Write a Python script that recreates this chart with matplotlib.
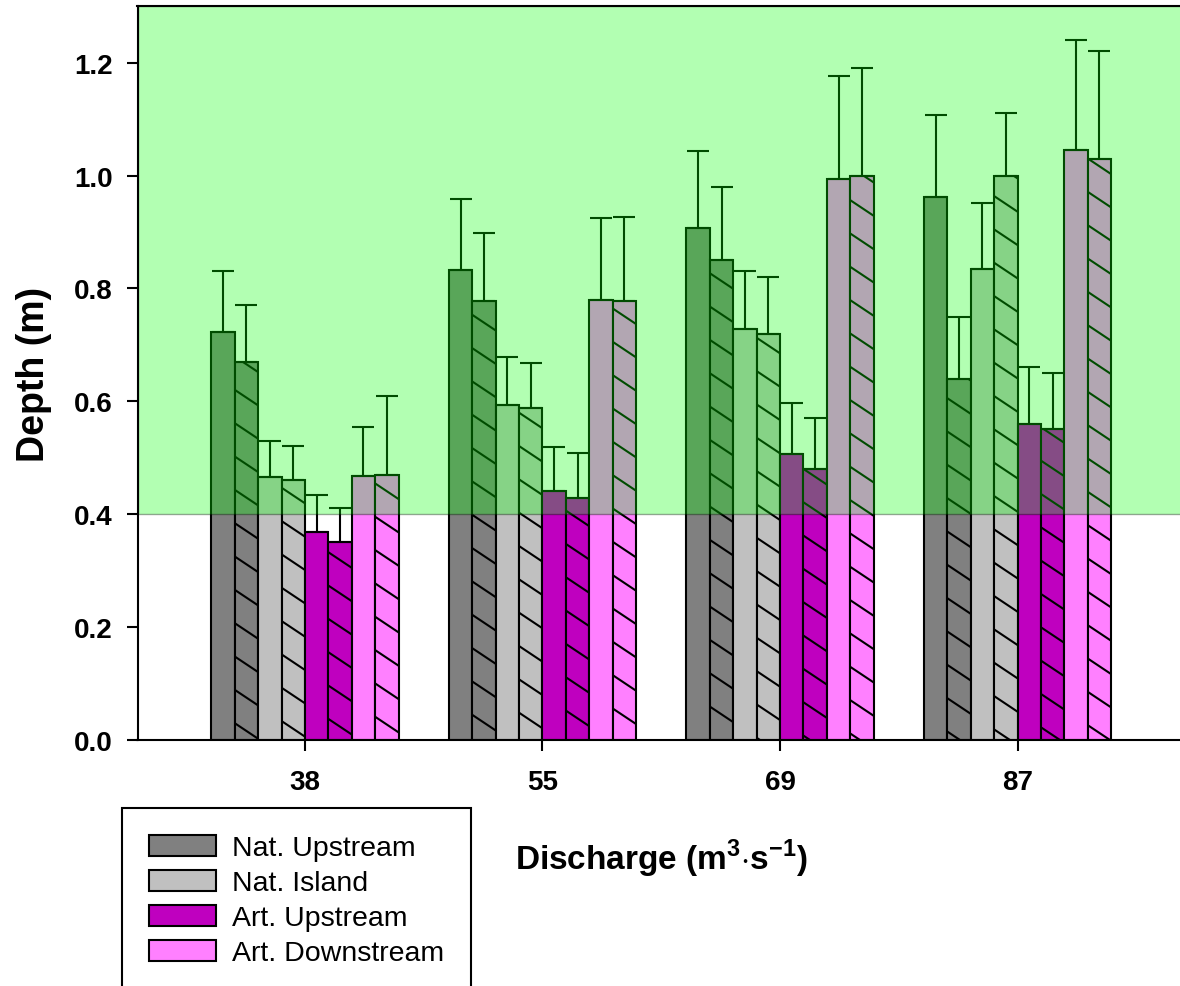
import numpy as np
import matplotlib
matplotlib.use('Agg')
import matplotlib.pyplot as plt
import matplotlib.hatch as mhatch
from matplotlib.path import Path
from matplotlib.patches import Patch

# ---------------- data ----------------
discharge = ['38', '55', '69', '87']
categories = ['Nat. Upstream', 'Nat. Island', 'Art. Upstream', 'Art. Downstream']
colors = ['#808080', '#c0c0c0', '#bf00bf', '#ff80ff']

nat_upstream_plain = [0.722, 0.833, 0.907, 0.962]
nat_upstream_hatched = [0.670, 0.778, 0.850, 0.640]
nat_island_plain = [0.465, 0.594, 0.728, 0.835]
nat_island_hatched = [0.460, 0.588, 0.720, 1.000]
art_upstream_plain = [0.368, 0.440, 0.506, 0.560]
art_upstream_hatched = [0.350, 0.428, 0.480, 0.550]
art_downstream_plain = [0.468, 0.780, 0.993, 1.046]
art_downstream_hatched = [0.470, 0.778, 1.000, 1.030]

nat_upstream_plain_err = [0.108, 0.126, 0.136, 0.145]
nat_upstream_hatched_err = [0.100, 0.120, 0.130, 0.110]
nat_island_plain_err = [0.065, 0.084, 0.102, 0.117]
nat_island_hatched_err = [0.060, 0.080, 0.100, 0.110]
art_upstream_plain_err = [0.065, 0.079, 0.090, 0.100]
art_upstream_hatched_err = [0.060, 0.081, 0.090, 0.100]
art_downstream_plain_err = [0.087, 0.145, 0.184, 0.194]
art_downstream_hatched_err = [0.140, 0.149, 0.190, 0.190]

depth_threshold = 0.4

series = [
    (nat_upstream_plain, nat_upstream_plain_err, 0, False),
    (nat_upstream_hatched, nat_upstream_hatched_err, 0, True),
    (nat_island_plain, nat_island_plain_err, 1, False),
    (nat_island_hatched, nat_island_hatched_err, 1, True),
    (art_upstream_plain, art_upstream_plain_err, 2, False),
    (art_upstream_hatched, art_upstream_hatched_err, 2, True),
    (art_downstream_plain, art_downstream_plain_err, 3, False),
    (art_downstream_hatched, art_downstream_hatched_err, 3, True),
]


# ---------------- custom shallow back-slash hatch ----------------
class ShallowBackHatch(mhatch.HatchPatternBase):
    def __init__(self, hatch, density):
        self.num_lines = 8 if '\\' in hatch else 0
        self.num_vertices = self.num_lines * 2

    def set_vertices_and_codes(self, vertices, codes):
        c = np.arange(-1, 7) / 3.0
        x0, x1 = -0.1, 1.1
        vertices[0::2, 0] = x0
        vertices[0::2, 1] = c - (2.0 / 3.0) * x0
        vertices[1::2, 0] = x1
        vertices[1::2, 1] = c - (2.0 / 3.0) * x1
        codes[0::2] = Path.MOVETO
        codes[1::2] = Path.LINETO


mhatch._hatch_types = [ShallowBackHatch if t is mhatch.SouthEastHatch else t
                       for t in mhatch._hatch_types]

# ---------------- style ----------------
plt.rcParams['font.family'] = ['Liberation Sans', 'DejaVu Sans']
plt.rcParams['mathtext.fontset'] = 'custom'
plt.rcParams['mathtext.rm'] = 'Liberation Sans'
plt.rcParams['mathtext.bf'] = 'Liberation Sans:bold'
plt.rcParams['hatch.linewidth'] = 1.5
plt.rcParams['hatch.color'] = 'black'

W, H = 1180, 987
fig = plt.figure(figsize=(W / 100, H / 100), dpi=100)
ax = fig.add_axes([137.5 / W, 1 - 740.7 / H, 1047.5 / W, 733.4 / H])

x = np.arange(len(discharge))
bar_w = 0.0985
for i, (vals, errs, ci, hatched) in enumerate(series):
    pos = x + (i - 3.5) * bar_w
    ax.bar(pos, vals, width=bar_w, color=colors[ci], edgecolor='black',
           linewidth=1.5, hatch='\\' if hatched else None, zorder=2)
    ax.errorbar(pos, vals, yerr=[np.zeros(len(vals)), errs], fmt='none',
                ecolor='black', elinewidth=1.5, capsize=8, capthick=1.5,
                zorder=2.1)

ax.set_xlim(-0.705, 3.705)
ax.set_ylim(0, 1.3)
ax.axhspan(depth_threshold, 1.3, facecolor=(0, 1, 0, 0.3),
           edgecolor=(0, 0, 0, 0.35), linewidth=1, zorder=2.3)

ax.set_xticks(x)
ax.set_xticklabels(discharge)
ax.set_yticks(np.arange(0, 1.21, 0.2))
ax.set_yticklabels([f'{v:.1f}' for v in np.arange(0, 1.21, 0.2)])
ax.tick_params(axis='both', direction='out', length=8, width=1.5,
               labelsize=20)
ax.tick_params(axis='y', pad=10)
ax.tick_params(axis='x', pad=13)
for lab in ax.get_xticklabels() + ax.get_yticklabels():
    lab.set_fontweight('bold')

for s in ['left', 'bottom', 'top']:
    ax.spines[s].set_linewidth(1.5)
ax.spines['right'].set_visible(False)

ax.set_ylabel('Depth (m)', fontsize=27, fontweight='bold', labelpad=16)
ax.set_xlabel(r'Discharge (m$^{\mathbf{3}}$$\cdot$s$^{\mathbf{-1}}$)',
              fontsize=24, fontweight='bold', labelpad=30)

handles = [Patch(facecolor=c, edgecolor='black', linewidth=1.5, label=l)
           for c, l in zip(colors, categories)]
leg = fig.legend(handles=handles, loc='upper left',
                 bbox_to_anchor=(122 / W, 1 - 809 / H), frameon=True,
                 fancybox=False, edgecolor='black', framealpha=1,
                 prop={'family': 'Liberation Sans', 'size': 20.5},
                 handlelength=2.35, handleheight=0.75, handletextpad=0.55,
                 labelspacing=0.3, borderpad=0.95, borderaxespad=0)
leg.get_frame().set_linewidth(1.5)

fig.savefig('out.png', dpi=100)
